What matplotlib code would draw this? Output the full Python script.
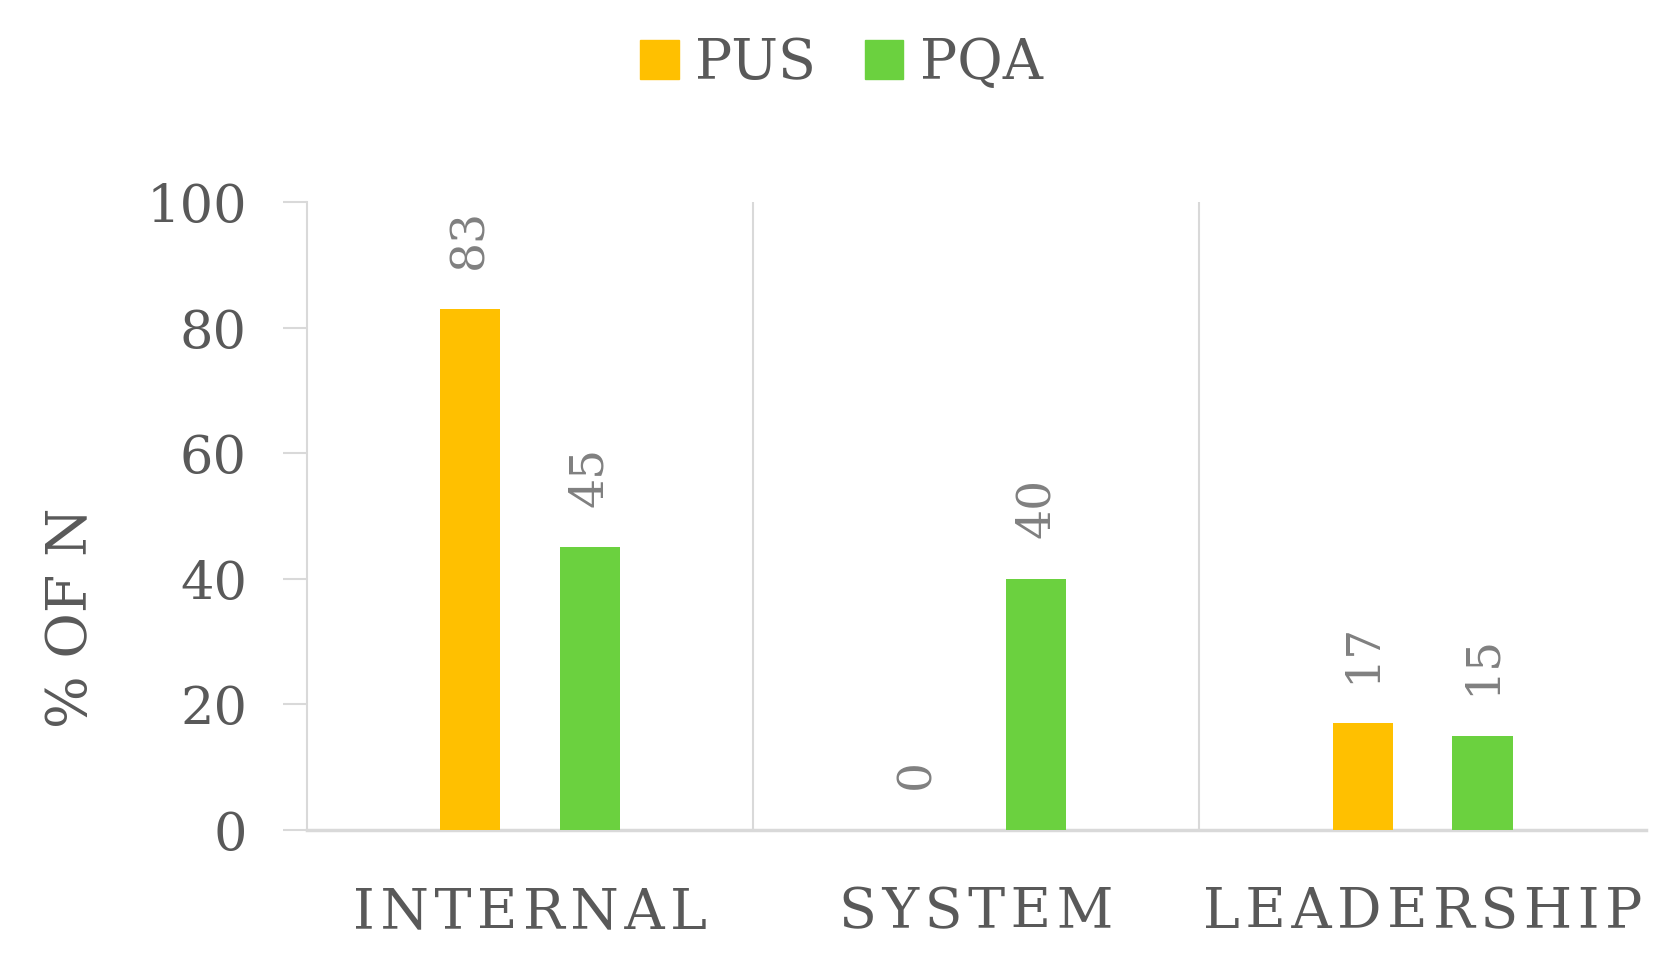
import numpy as np
import matplotlib
matplotlib.use('Agg')
import matplotlib.pyplot as plt
from matplotlib.patches import Patch

categorias = ['INTERNAL', 'SYSTEM', 'LEADERSHIP']
series = ['PUS', 'PQA']
valores_pus = [83, 0, 17]
valores_pqa = [45, 40, 15]
colores = ['#ffc000', '#6bd13f']

plt.rcParams['font.family'] = ['DejaVu Serif', 'DejaVu Sans']

fig = plt.figure(figsize=(16.76, 9.58), dpi=100)
ax = fig.add_axes([0.183, 0.134, 0.799, 0.655])

x = np.arange(len(categorias)) + 0.5
ancho = 0.135
desp = 0.134

for valores, color, d in zip([valores_pus, valores_pqa], colores, [-desp, desp]):
    barras = ax.bar(x + d, valores, width=ancho, color=color, zorder=3)
    for b, v in zip(barras, valores):
        ax.annotate(str(v), (b.get_x() + b.get_width() / 2, v),
                    xytext=(0, 29), textcoords='offset points',
                    rotation=90, ha='center', va='bottom',
                    fontsize=34, color='#808080')

# lineas separadoras entre categorias
for sep in range(1, len(categorias)):
    ax.axvline(sep, color='#d9d9d9', lw=1.5, zorder=1)

ax.set_xlim(0, len(categorias))
ax.set_ylim(0, 100)
ax.set_yticks(range(0, 101, 20))

for s in ['top', 'right']:
    ax.spines[s].set_visible(False)
ax.spines['left'].set_color('#d9d9d9')
ax.spines['left'].set_linewidth(1.5)
ax.spines['bottom'].set_color('#d9d9d9')
ax.spines['bottom'].set_linewidth(2.5)

ax.tick_params(axis='y', length=17, width=1.5, color='#d9d9d9', pad=26,
               labelsize=38, labelcolor='#595959')

# letras separadas con espacio fino, como en el original
etiquetas = ['\u200a'.join(c) for c in categorias]
ax.set_xticks(x)
ax.set_xticklabels(etiquetas)
ax.tick_params(axis='x', length=0, pad=40, labelsize=40, labelcolor='#595959')

ax.set_ylabel('% OF N', fontsize=40, color='#595959')
ax.yaxis.set_label_coords(-0.155, 0.338)

handles = [Patch(color=c) for c in colores]
fig.legend(handles, series, loc='center', bbox_to_anchor=(0.502, 0.934),
           ncol=2, frameon=False, fontsize=40, labelcolor='#595959',
           handlelength=0.7, handleheight=0.7, handletextpad=0.3,
           columnspacing=0.87)

fig.savefig('out.png', dpi=100)
